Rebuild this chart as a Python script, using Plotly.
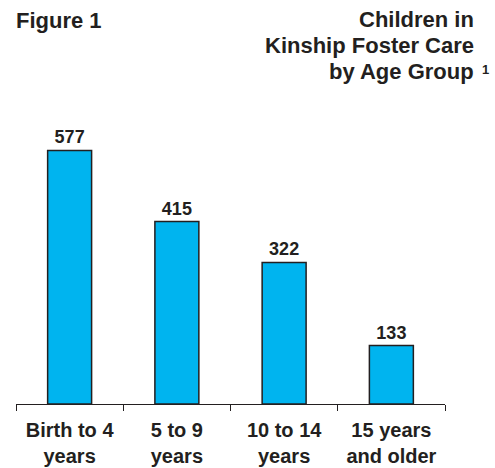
import plotly.graph_objects as go

# Kinship foster care placements by age group
age_groups = ["Birth to 4<br>years", "5 to 9<br>years", "10 to 14<br>years", "15 years<br>and older"]
children = [577, 415, 322, 133]

title_lines = ["Children in", "Kinship Foster Care", "by Age Group"]
footnote_mark = "1"
figure_label = "Figure 1"

INK = "#231F20"
BAR = "#00B4EF"
FONT = "Liberation Sans, Arial, sans-serif"

# plot area geometry (pixels) used to place the header text
L, R, T, B, W, H = 16, 50, 100, 63.5, 495, 468
PLOT_W = W - L - R
PLOT_H = H - T - B


def px_x(px):
    return (px - L) / PLOT_W


def px_y(py):
    return (H - B - py) / PLOT_H


fig = go.Figure(
    go.Bar(
        x=age_groups,
        y=children,
        text=[str(v) for v in children],
        textposition="outside",
        textfont=dict(family=FONT, size=18, color=INK, weight="bold"),
        marker=dict(color=BAR, line=dict(color=INK, width=1.5)),
        cliponaxis=False,
        hoverinfo="skip",
    )
)

annotations = [
    dict(
        text=f"<b>{figure_label}</b>",
        xref="paper", yref="paper",
        x=px_x(14), y=px_y(20), xanchor="left", yanchor="middle",
        showarrow=False,
        font=dict(family=FONT, size=22, color=INK),
    )
]
for i, line in enumerate(title_lines):
    annotations.append(
        dict(
            text=f"<b>{line}</b>",
            xref="paper", yref="paper",
            x=px_x(476), y=px_y(19 + 26 * i), xanchor="right", yanchor="middle",
            showarrow=False,
            font=dict(family=FONT, size=22, color=INK),
        )
    )
annotations.append(
    dict(
        text=f"<b>{footnote_mark}</b>",
        xref="paper", yref="paper",
        x=px_x(491), y=px_y(69), xanchor="right", yanchor="middle",
        showarrow=False,
        font=dict(family=FONT, size=13, color=INK),
    )
)

fig.update_layout(
    width=W,
    height=H,
    margin=dict(l=L, r=R, t=T, b=B, autoexpand=False),
    paper_bgcolor="white",
    plot_bgcolor="white",
    bargap=0.59,
    showlegend=False,
    font=dict(family=FONT, color=INK),
    xaxis=dict(
        automargin=False,
        showline=True,
        linecolor=INK,
        linewidth=1.3,
        ticks="outside",
        tickson="boundaries",
        ticklen=6,
        tickcolor=INK,
        tickwidth=1.3,
        ticklabelstandoff=8,
        tickfont=dict(family=FONT, size=20, color=INK, weight="bold"),
        showgrid=False,
        fixedrange=True,
    ),
    yaxis=dict(
        automargin=False,
        range=[0, 691.7],
        visible=False,
        showgrid=False,
        zeroline=False,
        fixedrange=True,
    ),
    annotations=annotations,
)

fig.write_html("out.html")
